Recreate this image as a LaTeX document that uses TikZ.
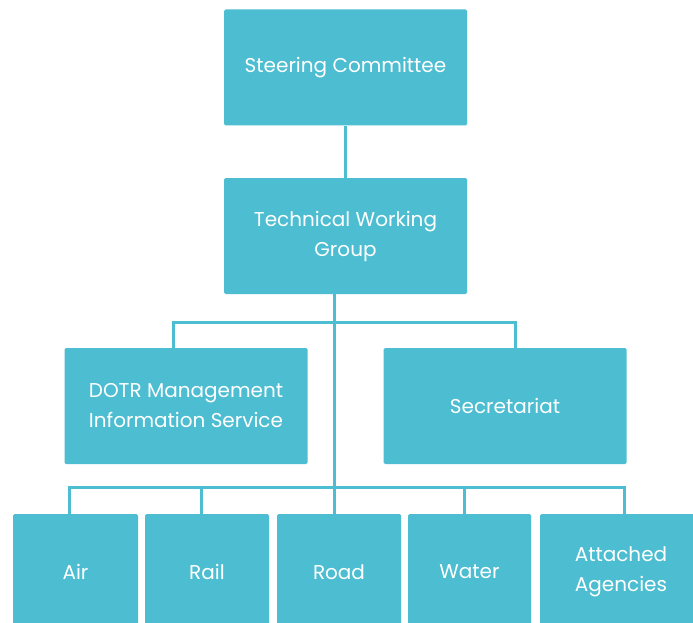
\documentclass[tikz,border=0pt]{standalone}
\usepackage{fontspec}
\setmainfont{Poppins}
\usetikzlibrary{positioning}
\definecolor{orgblue}{HTML}{4DBDD1}

\begin{document}
\begin{tikzpicture}[
    x=1pt, y=-1pt,
    box/.style={rectangle, fill=orgblue, rounded corners=1.5pt, minimum width=243pt, minimum height=116pt, inner sep=0pt, align=center, text=white, font=\fontsize{20}{30}\selectfont},
    unit/.style={box, minimum width=124pt},
    link/.style={draw=orgblue, line width=3pt}
  ]
    \clip (0,0) rectangle (693,623);
    \fill[white] (0,0) rectangle (693,623);

    % Top of the chart
    \node[box] (steer) at (345.5, 67.5) {Steering Committee};
    \node[box] (twg) at (345.5, 236) {Technical Working\\Group};

    % Middle level
    \node[box] (mis) at (186, 406) {DOTR Management\\Information Service};
    \node[box] (sec) at (505, 406) {Secretariat};

    % Bottom level
    \node[unit, minimum width=125pt] (air) at (75.5, 572) {Air};
    \node[unit] (rail) at (207, 572) {Rail};
    \node[unit] (road) at (339, 572) {Road};
    \node[unit, minimum width=123pt] (water) at (469.5, 572) {Water};
    \node[unit, minimum width=162pt] (att) at (621, 572) {Attached\\Agencies};

    % Bus points
    \coordinate (midbus) at (334, 322);
    \coordinate (lowbus) at (334, 487);

    % Links
    \draw[link] (steer) -- (twg);
    \draw[link] ([xshift=-11.5pt]twg.south) -- ([xshift=-5pt]road.north);
    \draw[link] ([xshift=-13pt]mis.north) |- (midbus) -| ([xshift=10pt]sec.north);
    \draw[link] ([xshift=-6.5pt]air.north) |- (lowbus) -| ([xshift=3pt]att.north);
    \draw[link] ([xshift=-6pt]rail.north) -- ([xshift=-6pt]rail.north |- lowbus);
    \draw[link] ([xshift=-5.5pt]water.north) -- ([xshift=-5.5pt]water.north |- lowbus);
  \end{tikzpicture}
\end{document}
